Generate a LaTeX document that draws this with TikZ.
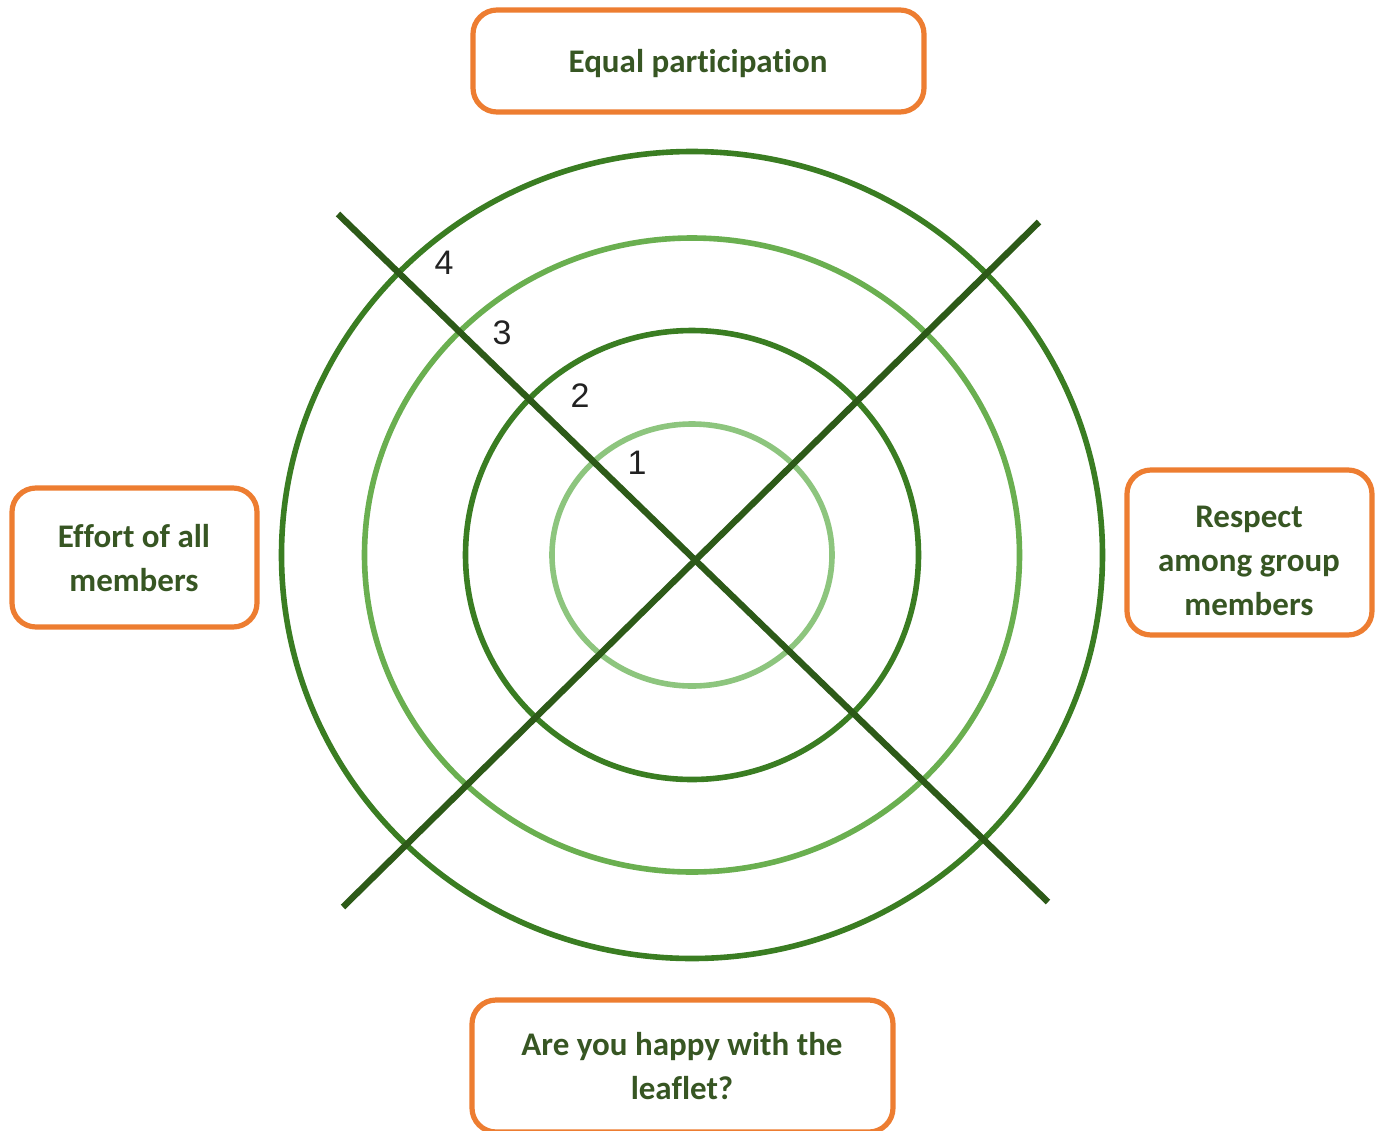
\documentclass[tikz,border=0pt]{standalone}
\usepackage{fontspec}
\setmainfont[Ligatures=NoCommon]{Carlito}
\newfontfamily\numfont{Liberation Sans}
\definecolor{txtgreen}{HTML}{375623}
\definecolor{boxorange}{HTML}{ED7D31}
\definecolor{ringdark}{HTML}{3A7D22}
\definecolor{ringmid}{HTML}{6AAF50}
\definecolor{ringlight}{HTML}{8DC57E}
\definecolor{crossgreen}{HTML}{2D5A18}
\definecolor{numgray}{HTML}{222222}
\begin{document}
\begin{tikzpicture}[x=0.5pt,y=-0.5pt,
  framebox/.style={draw=boxorange,line width=2.6pt,rounded corners=12pt,
    fill=white,inner sep=0pt},
  boxtext/.style={inner sep=0pt,align=center,text=txtgreen,
    font=\fontsize{16.5}{22}\selectfont\bfseries},
  ring/.style={line width=2.8pt},
  crossline/.style={draw=crossgreen,line width=3.2pt},
  num/.style={text=numgray,font=\numfont\fontsize{17}{19}\selectfont,inner sep=0pt}]
\useasboundingbox (0,0) rectangle (1378,1131);
\coordinate (c) at (692,555);
% rings
\draw[ring,ringdark]  (c) ellipse [x radius=205.25pt, y radius=201.75pt];
\draw[ring,ringmid]   (c) ellipse [x radius=163.75pt, y radius=158.5pt];
\draw[ring,ringdark]  (c) ellipse [x radius=113.25pt, y radius=112.25pt];
\draw[ring,ringlight] (c) ellipse [x radius=70pt, y radius=65.5pt];
% cross
\coordinate (a1) at (338,214);
\coordinate (a2) at (1048,902);
\coordinate (b1) at (343,907);
\coordinate (b2) at (1039,222);
\draw[crossline] (a1) -- (a2);
\draw[crossline] (b1) -- (b2);
% numbers
\node[num] (n4) at (444,263) {4};
\node[num] (n3) at (502,333) {3};
\node[num] (n2) at (580,396) {2};
\node[num] (n1) at (637,463) {1};
% boxes
\node[framebox,minimum width=225.5pt,minimum height=51pt] (topbox) at (698.5,61) {};
\node[boxtext] (toptext) at (698,64) {Equal participation};
\node[framebox,minimum width=122.5pt,minimum height=69.5pt] (leftbox) at (134.5,557.5) {};
\node[boxtext] (lefttext) at (134,558) {Effort of all\\members};
\node[framebox,minimum width=122.5pt,minimum height=82.5pt] (rightbox) at (1249.5,552.5) {};
\node[boxtext] (righttext) at (1249,561) {Respect\\among group\\members};
\node[framebox,minimum width=210.5pt,minimum height=66pt] (bottombox) at (682.5,1066) {};
\node[boxtext] (bottomtext) at (682,1066) {Are you happy with the\\leaflet?};
\end{tikzpicture}
\end{document}
